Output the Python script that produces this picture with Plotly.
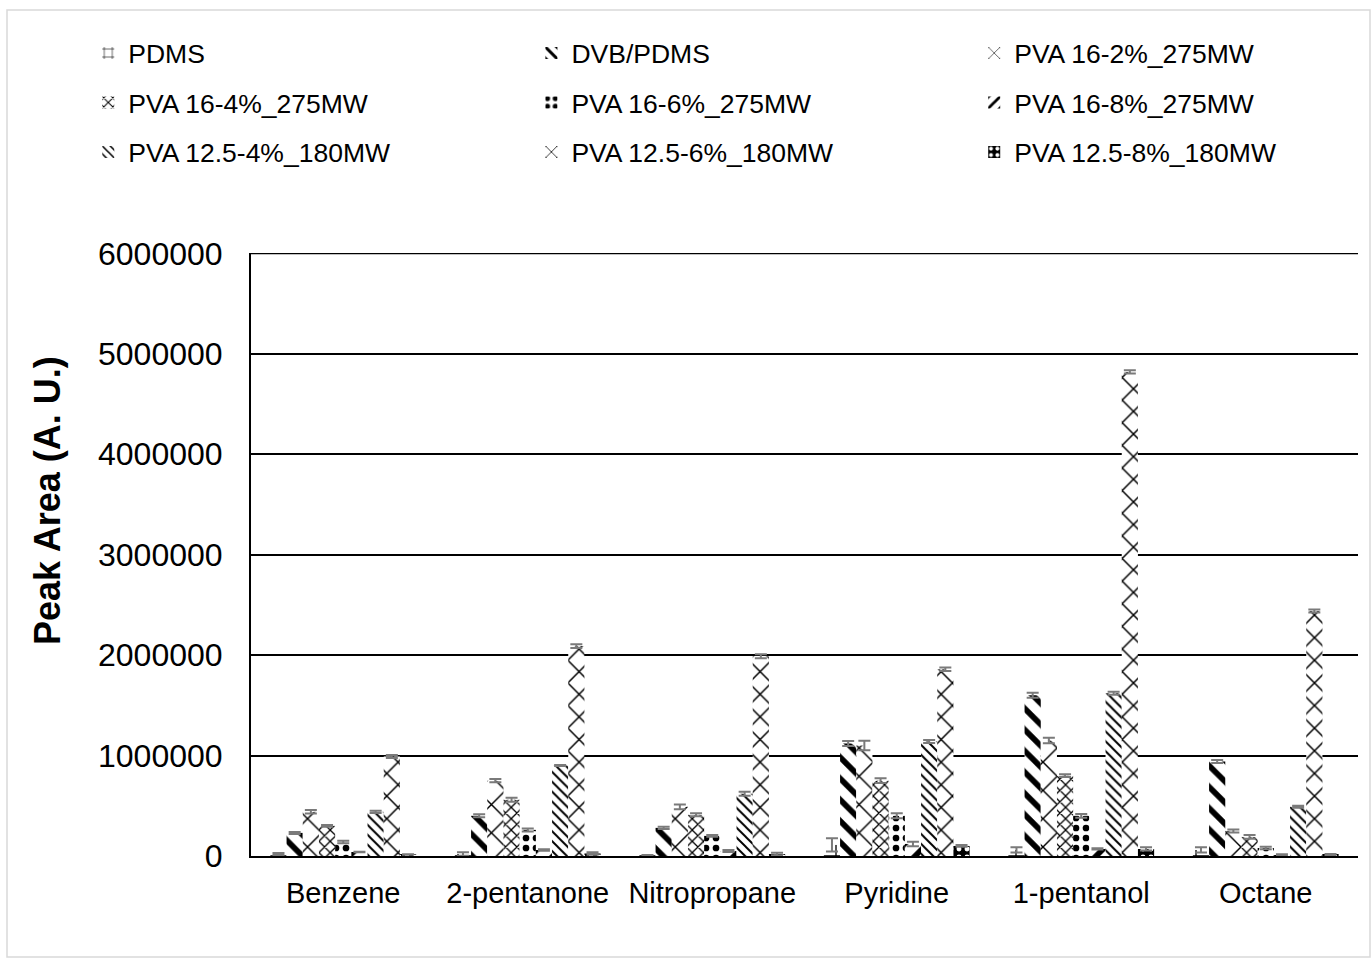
import plotly.graph_objects as go

categories = ["Benzene", "2-pentanone", "Nitropropane", "Pyridine", "1-pentanol", "Octane"]

series_names = [
    "PDMS", "DVB/PDMS", "PVA 16-2%_275MW",
    "PVA 16-4%_275MW", "PVA 16-6%_275MW", "PVA 16-8%_275MW",
    "PVA 12.5-4%_180MW", "PVA 12.5-6%_180MW", "PVA 12.5-8%_180MW",
]

pdms = [20000, 20000, 5000, 110000, 60000, 60000]
dvb_pdms = [230000, 400000, 280000, 1120000, 1600000, 940000]
pva16_2 = [440000, 750000, 490000, 1100000, 1150000, 250000]
pva16_4 = [300000, 560000, 410000, 750000, 800000, 190000]
pva16_6 = [140000, 260000, 200000, 400000, 400000, 80000]
pva16_8 = [40000, 60000, 50000, 120000, 70000, 10000]
pva125_4 = [440000, 900000, 620000, 1140000, 1620000, 490000]
pva125_6 = [990000, 2090000, 1990000, 1860000, 4820000, 2440000]
pva125_8 = [15000, 25000, 20000, 100000, 70000, 12000]

pdms_err = [10000, 17000, 5000, 66000, 26000, 26000]
dvb_pdms_err = [10000, 15000, 12000, 24000, 25000, 15000]
pva16_2_err = [17000, 16000, 24000, 47000, 28000, 15000]
pva16_4_err = [8000, 20000, 15000, 23000, 13000, 19000]
pva16_6_err = [12000, 15000, 9000, 25000, 18000, 13000]
pva16_8_err = [3000, 7000, 10000, 23000, 6000, 7000]
pva125_4_err = [11000, 5000, 20000, 14000, 15000, 10000]
pva125_6_err = [15000, 19000, 20000, 17000, 16000, 15000]
pva125_8_err = [2000, 12000, 13000, 9000, 16000, 8000]

y_ticks = [0, 1000000, 2000000, 3000000, 4000000, 5000000, 6000000]

values = [pdms, dvb_pdms, pva16_2, pva16_4, pva16_6, pva16_8, pva125_4, pva125_6, pva125_8]
errors = [pdms_err, dvb_pdms_err, pva16_2_err, pva16_4_err, pva16_6_err, pva16_8_err,
          pva125_4_err, pva125_6_err, pva125_8_err]

# fill pattern for each series (shape, tile size, solidity, fg, bg)
patterns = [
    dict(shape="+", size=18, solidity=0.14, fgcolor="black", bgcolor="white"),
    dict(shape="\\", size=15, solidity=0.38, fgcolor="black", bgcolor="white"),
    dict(shape="x", size=20, solidity=0.14, fgcolor="black", bgcolor="white"),
    dict(shape="x", size=8, solidity=0.3, fgcolor="black", bgcolor="white"),
    dict(shape=".", size=10, solidity=0.35, fgcolor="black", bgcolor="white"),
    dict(shape="/", size=16, solidity=0.35, fgcolor="black", bgcolor="white"),
    dict(shape="\\", size=7, solidity=0.28, fgcolor="black", bgcolor="white"),
    dict(shape="x", size=16, solidity=0.18, fgcolor="black", bgcolor="white"),
    dict(shape=".", size=8, solidity=0.3, fgcolor="white", bgcolor="black"),
]

legend_of = ["legend", "legend2", "legend3"] * 3

fig = go.Figure()
for i, (name, vals, errs, pat) in enumerate(zip(series_names, values, errors, patterns)):
    fig.add_trace(go.Bar(
        name=name,
        x=categories,
        y=vals,
        error_y=dict(type="data", array=errs, visible=True, color="#7a7a7a", thickness=2, width=6),
        marker=dict(color="white", line=dict(width=0), pattern=dict(fillmode="replace", **pat)),
        legend=legend_of[i],
        legendgroup=f"g{i}",
    ))

legend_common = dict(
    font=dict(family="Liberation Sans, Arial, sans-serif", size=26.5, color="black"),
    bgcolor="rgba(0,0,0,0)",
    orientation="v",
    tracegroupgap=12,
    xanchor="left",
    yanchor="top",
    itemwidth=30,
)

fig.update_layout(
    width=1371,
    height=958,
    paper_bgcolor="white",
    plot_bgcolor="white",
    font=dict(family="Liberation Sans, Arial, sans-serif", color="black"),
    margin=dict(l=251, r=13, t=253, b=102, autoexpand=False),
    barmode="group",
    bargap=0.21,
    bargroupgap=0,
    showlegend=True,
    legend=dict(x=-0.147, y=1.371, **legend_common),
    legend2=dict(x=0.2533, y=1.371, **legend_common),
    legend3=dict(x=0.6533, y=1.371, **legend_common),
    xaxis=dict(
        showline=True, linecolor="black", linewidth=2,
        showgrid=False, ticks="",
        tickfont=dict(size=29),
        ticklabelstandoff=10,
    ),
    yaxis=dict(
        range=[0, 6004000],
        tickvals=y_ticks,
        tickformat="d",
        showline=True, linecolor="black", linewidth=2,
        showgrid=True, gridcolor="black", gridwidth=1.5,
        zeroline=False,
        ticks="",
        tickfont=dict(size=32),
        ticklabelstandoff=20,
    ),
    annotations=[dict(
        text="<b>Peak Area (A. U.)</b>",
        xref="paper", yref="paper",
        x=(47 - 251) / 1107, y=(856 - 501) / 603,
        xanchor="center", yanchor="middle",
        textangle=-90, showarrow=False,
        font=dict(size=36, color="black"),
    )],
    shapes=[
        # outer chart-area frame
        dict(
            type="rect", xref="paper", yref="paper",
            x0=(7 - 251) / 1107, x1=(1370 - 251) / 1107,
            y0=(856 - 957) / 603, y1=(856 - 10) / 603,
            line=dict(color="#d9d9d9", width=1.5), fillcolor="rgba(0,0,0,0)", layer="below",
        ),
        # gridline at the top tick, which sits on the plot edge
        dict(
            type="line", xref="paper", yref="y",
            x0=0, x1=1, y0=y_ticks[-1], y1=y_ticks[-1],
            line=dict(color="black", width=1.5), layer="below",
        ),
    ],
)

fig.write_html("out.html")
